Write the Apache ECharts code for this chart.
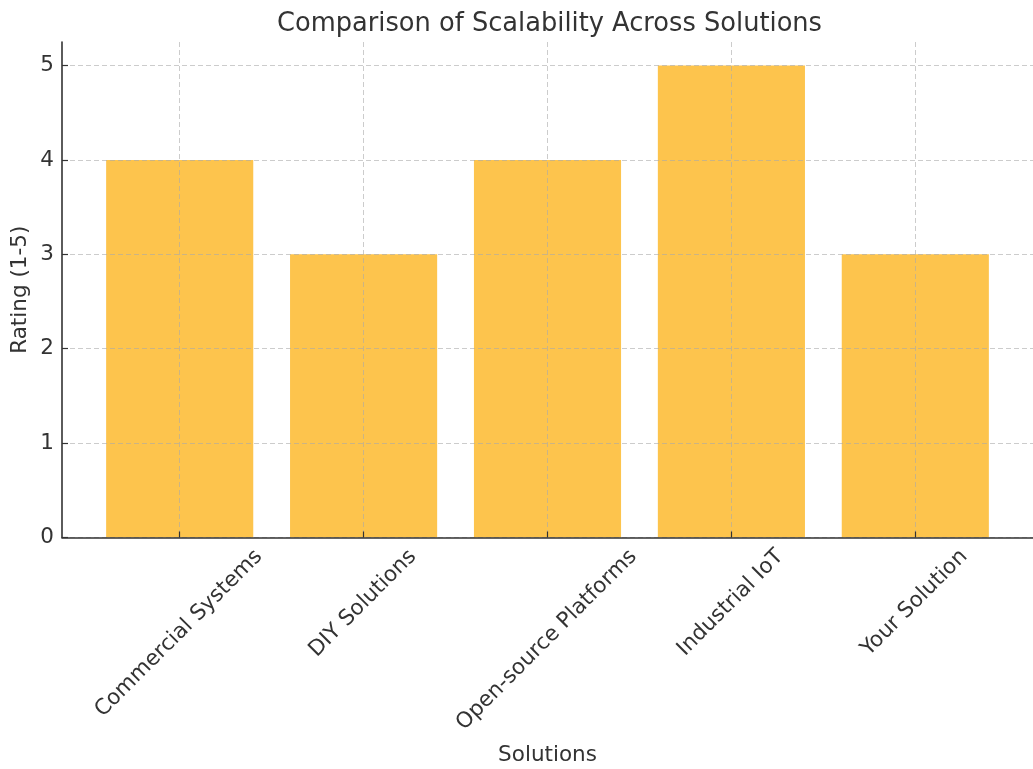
<!DOCTYPE html>
<html>
<head>
<meta charset="utf-8">
<title>Comparison of Scalability Across Solutions</title>
<script src="https://cdn.jsdelivr.net/npm/echarts@6/dist/echarts.min.js"></script>
<style>
  html, body { margin: 0; padding: 0; background: #ffffff; }
  #chart { width: 1033px; height: 769px; }
</style>
</head>
<body>
<div id="chart"></div>
<script>
// Scalability ratings per solution
const categories = ['Commercial Systems', 'DIY Solutions', 'Open-source Platforms', 'Industrial IoT', 'Your Solution'];
const ratings = [4, 3, 4, 5, 3];
const yTicks = [0, 1, 2, 3, 4, 5];

const FONT = '"DejaVu Sans", Verdana, sans-serif';
const TEXT = '#333333';
const LABEL_SIZE = 21.5;

const measureCtx = document.createElement('canvas').getContext('2d');
measureCtx.font = LABEL_SIZE + 'px ' + FONT;

const catIdx = categories.map((_, i) => i);
const barData = ratings.map((v, i) => [i, v]);
const gridLine = { show: true, lineStyle: { color: 'rgba(170,170,170,0.6)', type: [5, 3], width: 1 } };

const chart = echarts.init(document.getElementById('chart'), null, { renderer: 'canvas' });
chart.setOption({
  animation: false,
  backgroundColor: '#ffffff',
  title: {
    text: 'Comparison of Scalability Across Solutions',
    left: 272,
    top: 6,
    textStyle: { fontFamily: FONT, fontSize: 25.7, fontWeight: 'normal', color: TEXT }
  },
  grid: { left: 62, right: 0, top: 42, bottom: 231.5, containLabel: false, outerBoundsMode: 'none' },
  xAxis: {
    type: 'value',
    min: -0.64,
    max: 4.64,
    z: 5,
    name: 'Solutions',
    nameLocation: 'middle',
    nameGap: 207,
    nameMoveOverlap: false,
    nameTextStyle: { fontFamily: FONT, fontSize: LABEL_SIZE, color: TEXT },
    axisLine: { show: true, onZero: false, lineStyle: { color: '#333333', width: 1.6 } },
    axisTick: { show: true, inside: true, length: 6, customValues: catIdx, lineStyle: { color: '#333333', width: 1.2 } },
    axisLabel: { show: false, customValues: catIdx },
    splitLine: gridLine
  },
  yAxis: {
    type: 'value',
    min: 0,
    max: 5.25,
    z: 5,
    name: 'Rating (1-5)',
    nameLocation: 'middle',
    nameGap: 31,
    nameMoveOverlap: false,
    nameRotate: 90,
    nameTextStyle: { fontFamily: FONT, fontSize: LABEL_SIZE, color: TEXT },
    axisLine: { show: true, onZero: false, lineStyle: { color: '#333333', width: 1.6 } },
    axisTick: { show: true, inside: true, length: 6, customValues: yTicks, lineStyle: { color: '#333333', width: 1.2 } },
    axisLabel: { show: true, customValues: yTicks, margin: 8, fontFamily: FONT, fontSize: LABEL_SIZE, color: TEXT },
    splitLine: gridLine
  },
  series: [
    {
      type: 'bar',
      data: barData,
      barWidth: '80%',
      itemStyle: { color: 'rgb(253,196,77)' },
      z: 2
    },
    {
      // rotated category labels, centred under each tick
      type: 'custom',
      clip: false,
      silent: true,
      z: 6,
      data: catIdx.map(i => [i, 0]),
      renderItem: function (params, api) {
        const i = api.value(0);
        const p = api.coord([i, 0]);
        const text = categories[i];
        const w = measureCtx.measureText(text).width;
        const h = LABEL_SIZE * 1.13;
        const s = Math.SQRT1_2 / 2;
        return {
          type: 'text',
          x: p[0] + (w - h) * s,
          y: p[1] + 8,
          rotation: Math.PI / 4,
          style: {
            text: text,
            x: 0,
            y: 0,
            align: 'right',
            verticalAlign: 'top',
            fontFamily: FONT,
            fontSize: LABEL_SIZE,
            fill: TEXT
          }
        };
      }
    }
  ]
});
</script>
</body>
</html>
